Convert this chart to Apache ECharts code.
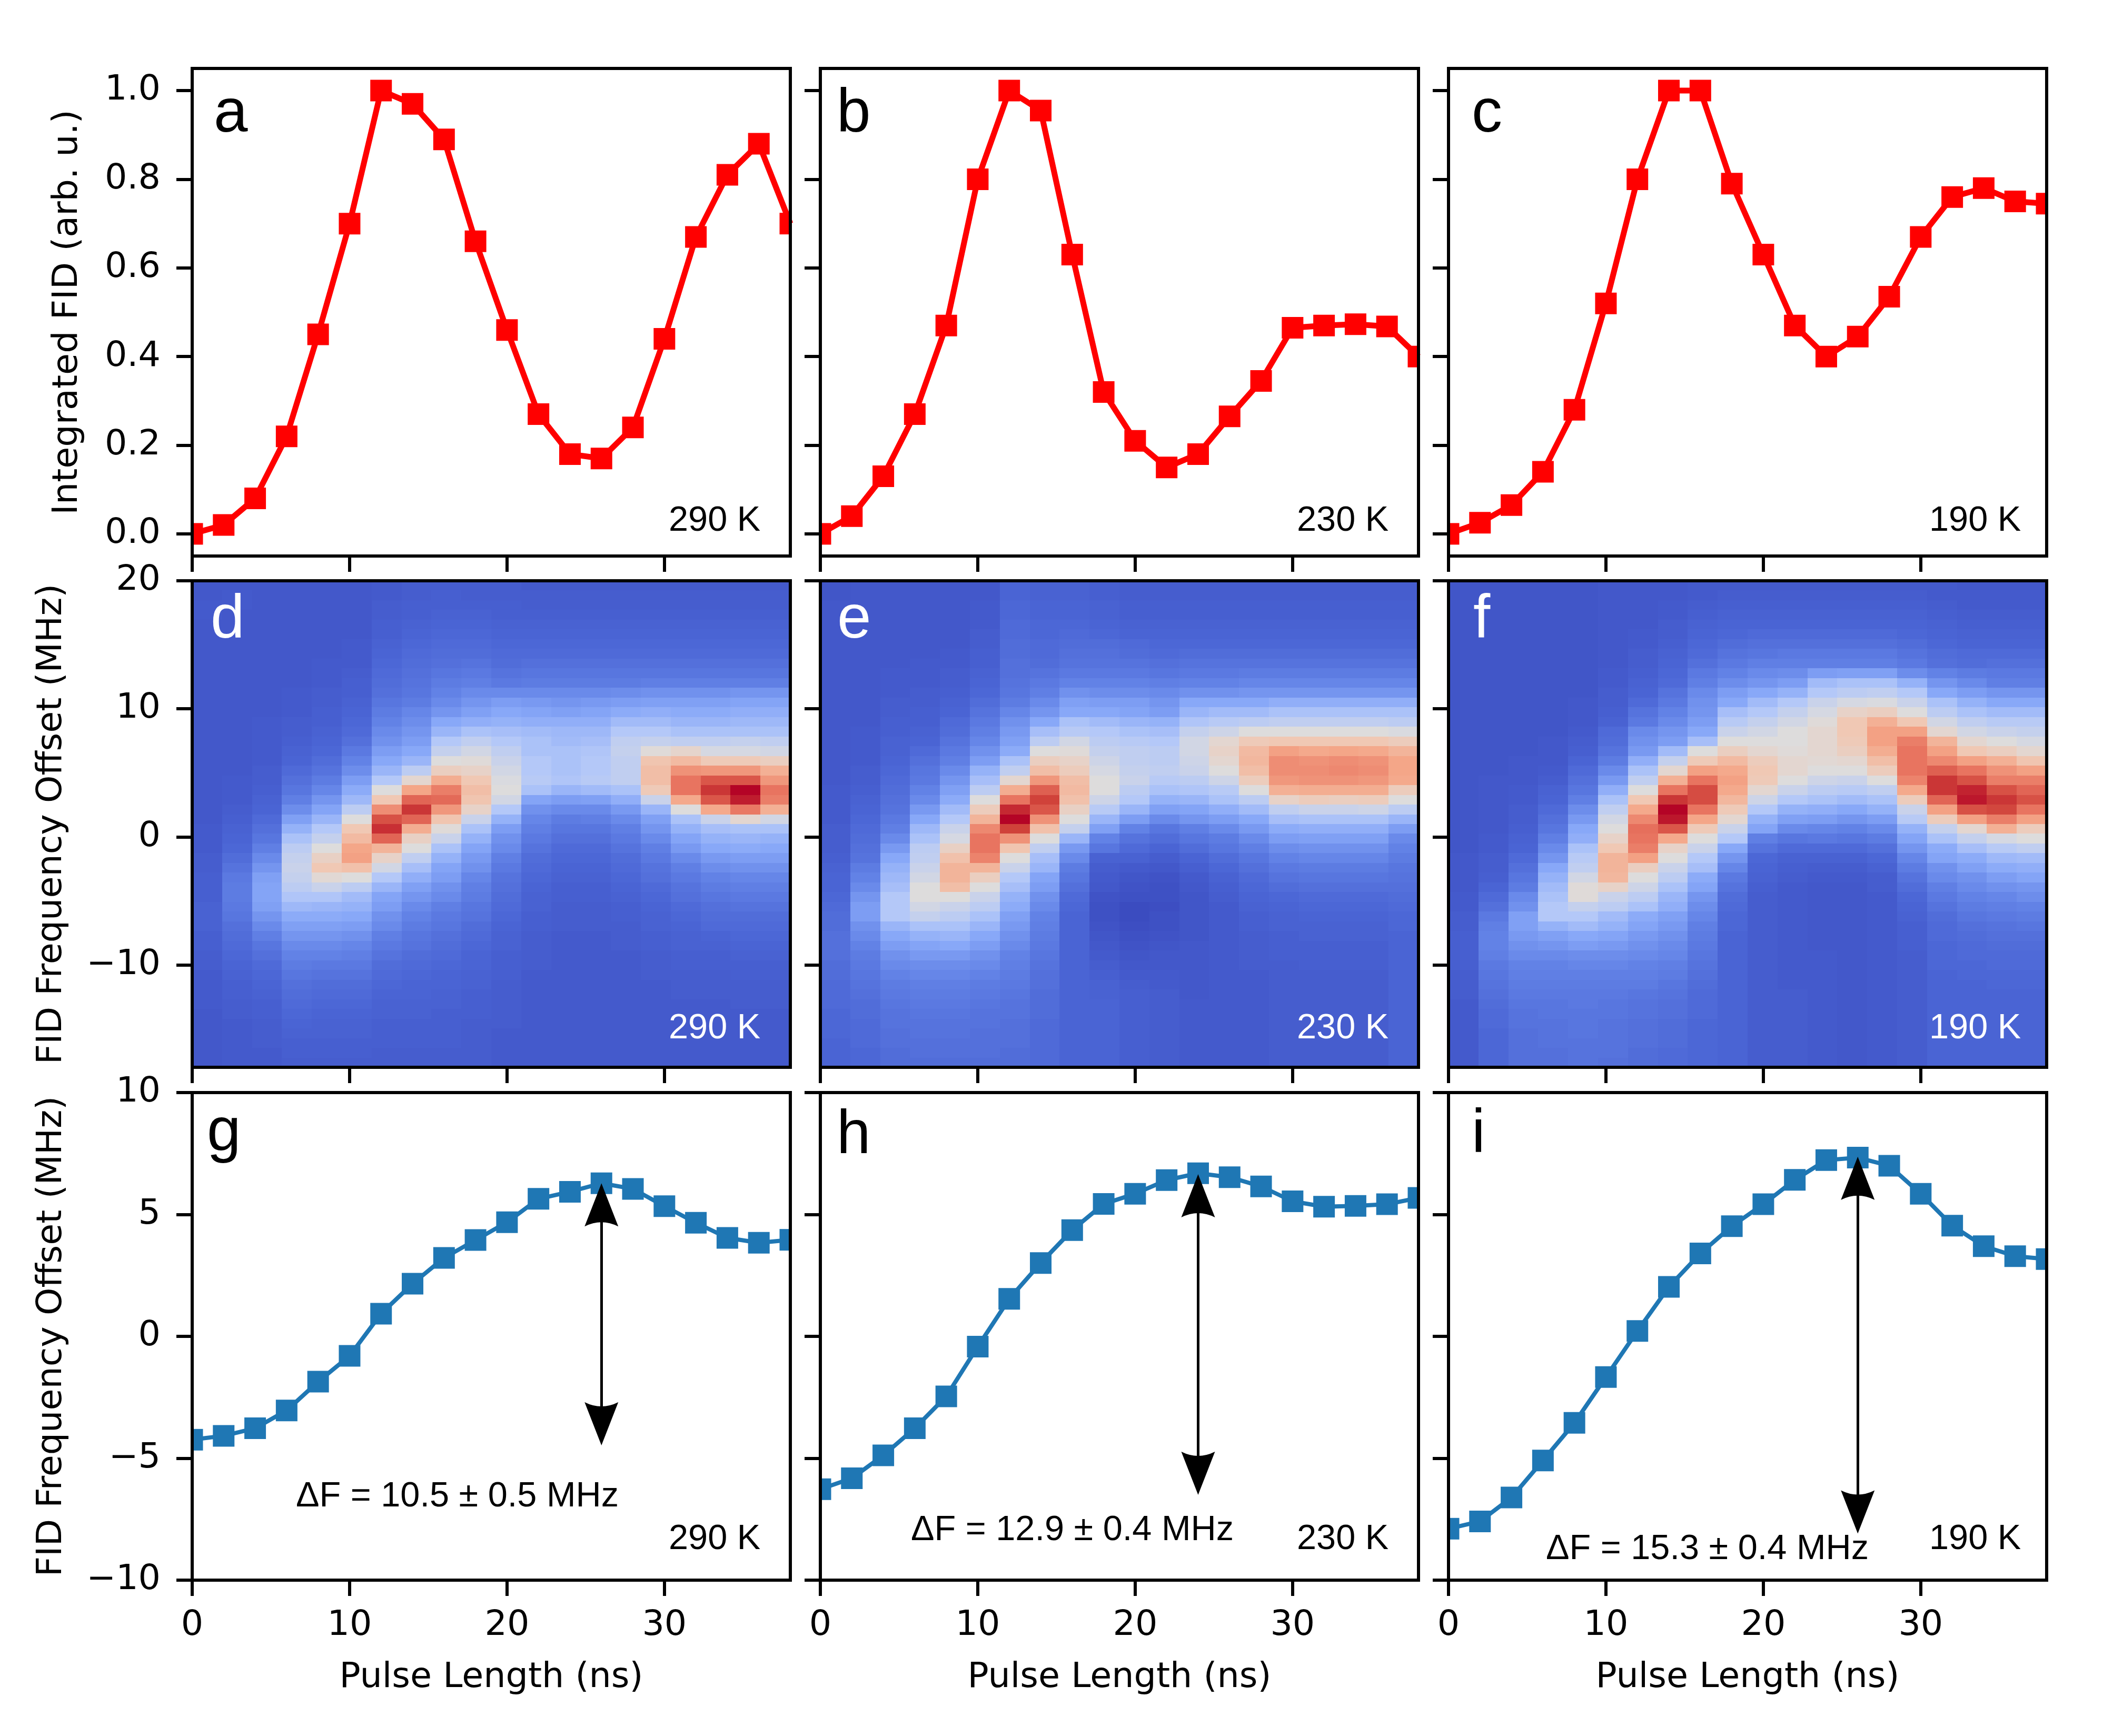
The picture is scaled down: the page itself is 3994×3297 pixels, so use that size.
<!DOCTYPE html>
<html>
<head>
<meta charset="utf-8">
<title>FID vs pulse length</title>
<script src="https://cdn.jsdelivr.net/npm/echarts@6/dist/echarts.min.js"></script>
<style>
  html, body { margin: 0; padding: 0; background: #fff; }
  #main { width: 3994px; height: 3297px; }
</style>
</head>
<body>
<div id="main"></div>
<script>
// pulse lengths (ns), shared by every panel
var pulseNs = [0, 2, 4, 6, 8, 10, 12, 14, 16, 18, 20, 22, 24, 26, 28, 30, 32, 34, 36, 38];

// a, b, c : integrated FID (arb. u.)
var fid290 = [0.00, 0.02, 0.08, 0.22, 0.45, 0.70, 1.00, 0.97, 0.89, 0.66, 0.46, 0.27, 0.18, 0.17, 0.24, 0.44, 0.67, 0.81, 0.88, 0.70];
var fid230 = [0.00, 0.04, 0.13, 0.27, 0.47, 0.80, 1.00, 0.955, 0.63, 0.32, 0.21, 0.15, 0.18, 0.265, 0.345, 0.465, 0.47, 0.473, 0.468, 0.40];
var fid190 = [0.00, 0.025, 0.065, 0.14, 0.28, 0.52, 0.80, 1.00, 1.00, 0.79, 0.63, 0.47, 0.40, 0.445, 0.535, 0.67, 0.76, 0.78, 0.75, 0.745];

// g, h, i : FID frequency offset (MHz)
var offset290 = [-4.24, -4.08, -3.77, -3.04, -1.86, -0.80, 0.93, 2.16, 3.22, 3.95, 4.68, 5.64, 5.93, 6.28, 6.05, 5.34, 4.66, 4.04, 3.84, 3.96];
var offset230 = [-6.27, -5.82, -4.88, -3.77, -2.46, -0.42, 1.54, 3.01, 4.36, 5.43, 5.85, 6.41, 6.69, 6.53, 6.15, 5.54, 5.32, 5.35, 5.42, 5.68];
var offset190 = [-7.89, -7.59, -6.61, -5.09, -3.55, -1.67, 0.22, 2.03, 3.40, 4.52, 5.42, 6.42, 7.23, 7.33, 7.00, 5.85, 4.54, 3.70, 3.29, 3.17];

// double arrows in g, h, i (pulse, top, bottom)
var arrowX = [26, 24, 26];
var arrowTop = [6.28, 6.65, 7.37];
var arrowBottom = [-4.47, -6.50, -8.09];

var temps = ['290 K', '230 K', '190 K'];
var deltaF = ['\u0394F = 10.5 \u00b1 0.5 MHz', '\u0394F = 12.9 \u00b1 0.4 MHz', '\u0394F = 15.3 \u00b1 0.4 MHz'];
var letters = [['a', 'b', 'c'], ['d', 'e', 'f'], ['g', 'h', 'i']];

var pulseTicks = [0, 10, 20, 30];
var fidTicks = [0, 0.2, 0.4, 0.6, 0.8, 1.0];
var mapTicks = [-10, 0, 10, 20];
var offsetTicks = [-10, -5, 0, 5, 10];

// d, e, f : FID spectra (intensity 0-100). One array per pulse-length bin (20 bins over 0-38 ns),
// each holding 50 frequency bins from +20 MHz (first) down to -18 MHz (last).
var mapX = [0, 38];
var mapY = [-18, 20];
var fidMap290 = [
  [5,5,6,6,5,5,5,5,5,5, 5,5,5,5,5,5,5,5,5,5, 5,5,5,5,5,6,6,6,7,7, 8,8,8,9,9,9,8,8,7,7, 6,6,6,6,5,5,5,5,5,5],
  [5,6,6,5,5,5,5,5,5,5, 5,5,5,5,5,5,5,5,5,5, 6,6,6,7,8,9,10,11,13,15, 17,18,18,17,16,14,13,12,11,10, 9,8,8,7,7,6,6,6,6,6],
  [5,5,5,5,5,5,5,5,5,5, 5,5,5,5,6,6,6,6,6,7, 7,8,9,10,12,14,16,19,22,25, 28,29,29,28,25,22,19,16,14,12, 11,10,9,8,8,7,7,7,6,6],
  [5,5,5,5,5,5,5,5,5,5, 5,6,6,6,7,7,8,9,10,12, 14,16,19,23,28,33,38,42,44,45, 44,42,39,35,31,28,25,22,20,18, 16,14,13,12,11,10,9,8,8,7],
  [5,5,5,5,5,5,5,5,6,6, 6,7,7,8,8,9,10,11,13,15, 18,21,25,29,34,40,44,50,56,60, 52,45,39,34,31,28,25,22,20,17, 15,13,12,11,10,9,9,8,8,7],
  [5,5,5,5,5,5,6,6,6,7, 8,8,9,10,11,12,14,17,20,23, 27,31,35,42,50,60,64,70,71,62, 50,42,36,33,30,27,24,21,19,17, 15,13,12,11,10,9,9,8,8,7],
  [6,6,7,7,8,8,9,10,11,12, 13,14,16,18,20,22,24,27,30,34, 40,50,60,75,87,93,83,66,55,47, 40,34,29,27,24,22,19,17,15,13, 12,11,10,9,9,8,8,8,7,7],
  [7,7,8,8,9,10,11,12,13,14, 15,16,18,21,23,25,27,30,34,42, 53,70,83,92,83,68,56,50,43,37, 32,28,25,22,20,18,16,15,13,12, 11,10,10,9,9,8,8,8,7,7],
  [7,8,8,9,10,11,12,13,14,16, 18,20,22,25,30,34,40,44,50,57, 68,78,82,73,61,51,45,38,33,29, 27,24,22,19,17,16,14,13,12,11, 10,10,9,9,8,8,8,8,7,7],
  [7,7,8,9,10,11,12,13,15,17, 19,22,25,28,32,38,43,47,51,55, 60,63,61,55,45,38,33,29,26,24, 21,19,18,16,15,13,12,11,10,10, 9,9,8,8,8,7,7,7,7,7],
  [7,7,8,8,9,10,11,12,13,15, 17,22,27,30,33,37,40,43,45,47, 49,50,47,40,33,27,24,22,19,17, 15,14,13,12,11,10,9,9,8,8, 8,7,7,7,7,7,6,6,6,6],
  [6,7,7,8,9,10,11,12,14,16, 18,22,26,29,32,36,38,38,40,40, 41,38,29,24,21,19,17,15,13,12, 11,10,9,9,8,8,7,7,7,7, 6,6,6,6,6,6,6,6,6,6],
  [6,7,7,8,9,10,11,12,14,16, 18,22,25,28,32,35,36,38,38,38, 39,34,27,22,18,16,14,12,11,10, 9,8,8,7,7,7,6,6,6,6, 6,6,6,6,6,6,6,6,6,6],
  [6,7,7,8,9,10,11,12,14,16, 18,22,26,29,32,35,37,39,40,40, 41,36,28,22,19,16,14,12,11,10, 9,8,8,7,7,7,6,6,6,6, 6,6,6,6,6,6,6,6,6,6],
  [6,7,7,8,9,10,11,12,14,16, 18,23,27,31,36,40,43,44,43,43, 43,38,32,26,22,19,17,15,13,12, 11,10,9,8,8,7,7,7,6,6, 6,6,6,6,6,6,6,6,6,6],
  [6,7,7,8,9,10,11,12,14,16, 19,24,28,32,36,40,44,51,61,63, 63,59,45,34,28,25,22,19,17,15, 14,12,11,10,9,9,8,8,7,7, 7,6,6,6,6,6,6,6,6,6],
  [6,7,7,8,9,10,11,12,14,16, 19,24,28,31,34,38,43,54,64,74, 80,80,69,50,38,33,29,26,22,19, 17,15,14,12,11,10,9,9,8,8, 7,7,7,6,6,6,6,6,6,6],
  [6,7,7,8,9,10,11,12,14,16, 19,24,28,31,34,38,43,48,59,73, 86,92,86,69,45,37,33,30,26,23, 20,18,16,14,13,12,10,9,8,8, 7,7,7,6,6,6,6,6,6,6],
  [6,7,7,8,9,10,11,12,14,16, 19,25,29,32,35,38,44,48,59,73, 86,100,96,79,53,38,34,31,27,24, 21,19,17,15,13,12,11,10,9,8, 8,7,7,7,6,6,6,6,6,6],
  [6,7,7,8,9,10,11,12,14,16, 19,25,29,32,35,38,43,47,57,67, 73,80,78,67,47,38,33,30,27,24, 21,19,17,15,13,12,11,10,9,8, 8,7,7,7,6,6,6,6,6,6]
];
var fidMap230 = [
  [4,4,5,5,5,5,5,5,5,5, 5,5,5,5,5,5,5,5,5,5, 5,6,6,6,6,7,7,7,8,9, 10,10,11,12,13,13,14,14,14,13, 13,12,12,12,11,11,11,10,10,10],
  [5,5,5,5,5,5,5,5,5,5, 5,5,5,5,5,6,6,6,6,7, 7,8,9,10,11,12,13,14,15,18, 20,22,25,27,27,24,22,20,18,17, 16,15,14,13,13,12,12,12,11,11],
  [5,5,5,5,5,5,5,5,5,6, 6,6,7,7,8,8,9,9,10,11, 12,13,14,15,17,19,22,26,30,33, 35,37,40,40,40,34,30,27,24,22, 20,18,17,16,15,15,14,14,13,13],
  [5,5,5,5,5,5,5,5,6,6, 6,7,7,8,8,9,10,12,14,16, 17,20,22,26,30,35,38,42,43,45, 47,50,50,47,44,38,33,29,26,23, 21,19,18,17,16,15,15,14,14,13],
  [5,5,5,5,5,5,5,6,6,7, 7,8,9,10,12,13,15,17,19,22, 25,28,31,36,40,45,48,56,62,66, 66,63,50,45,42,38,34,30,26,23, 21,19,18,17,16,15,15,14,14,13],
  [5,5,6,6,6,7,7,8,8,9, 10,11,13,15,17,19,21,24,27,33, 37,42,50,58,66,76,80,80,77,66, 57,50,45,42,38,34,30,27,24,22, 20,18,17,16,15,15,14,14,14,13],
  [10,10,11,11,12,12,13,13,14,14, 15,16,18,21,24,26,28,31,38,43, 53,68,80,94,100,90,74,61,50,45, 40,37,33,31,28,26,24,22,20,19, 18,17,16,15,15,14,14,14,13,13],
  [9,9,10,10,11,11,12,12,13,15, 17,19,22,25,30,37,42,50,57,63, 73,84,90,86,74,62,50,43,37,34, 29,27,24,22,20,19,18,17,16,15, 14,14,13,13,13,12,12,12,12,12],
  [9,9,10,10,11,12,13,14,15,17, 20,24,28,30,38,41,47,51,55,58, 63,64,62,56,50,44,34,26,22,18, 16,14,12,11,10,10,10,10,10,10, 10,10,10,10,10,10,10,10,10,10],
  [8,8,9,9,10,11,13,14,15,17, 20,23,27,30,36,40,42,44,46,48, 50,50,46,41,34,28,20,16,9,7, 6,5,3,2,2,3,4,5,6,7, 8,9,9,10,10,10,10,10,10,10],
  [7,7,8,8,9,10,12,13,15,17, 20,23,27,29,34,38,41,43,43,44, 45,42,40,34,27,20,15,12,9,6, 4,3,2,0,0,1,2,3,4,5, 6,7,8,8,8,8,8,8,8,8],
  [7,7,8,8,9,10,11,12,14,16, 19,22,25,27,33,37,40,42,42,43, 41,38,33,28,22,16,13,10,7,5, 3,2,2,1,2,2,3,4,5,5, 6,6,7,7,7,7,7,7,7,7],
  [7,7,8,8,9,10,11,13,15,17, 20,24,30,34,39,44,47,47,46,45, 42,39,34,29,25,19,16,13,10,8, 6,5,4,4,4,4,4,5,5,5, 5,5,5,6,6,6,6,6,6,6],
  [7,7,8,8,9,10,11,13,15,17, 20,24,30,36,41,46,53,55,53,50, 46,41,38,32,27,22,18,16,13,11, 9,8,7,6,6,6,6,6,6,6, 6,6,6,6,6,6,6,6,6,6],
  [7,7,8,8,9,10,11,13,15,18, 21,25,30,36,42,50,59,64,65,63, 58,50,42,36,30,26,22,19,16,14, 12,11,10,9,8,8,7,7,7,7, 6,6,6,6,6,6,6,6,6,6],
  [7,7,8,8,9,10,11,13,15,18, 21,25,32,38,43,50,60,71,75,75, 73,67,55,43,37,31,27,23,20,17, 15,13,11,10,9,9,8,8,8,7, 7,7,7,7,7,7,7,7,7,7],
  [7,7,8,8,9,10,11,13,15,18, 21,25,32,38,43,50,60,69,74,75, 74,68,58,45,38,32,28,24,21,18, 16,14,12,11,10,9,9,8,8,8, 7,7,7,7,7,7,7,7,7,7],
  [7,7,8,8,9,10,11,13,15,18, 21,25,32,38,43,50,60,70,75,76, 74,68,57,45,38,32,28,24,21,18, 16,14,12,11,10,9,9,8,8,8, 7,7,7,7,7,7,7,7,7,7],
  [7,7,8,8,9,10,11,13,15,18, 21,25,32,38,43,50,60,69,74,75, 73,68,58,46,38,32,28,24,21,18, 16,14,12,11,10,9,9,8,8,8, 7,7,7,7,7,7,7,7,7,7],
  [7,7,8,8,9,10,11,13,15,18, 21,25,32,38,42,49,58,66,70,70, 69,58,50,42,34,27,22,20,18,16, 15,14,13,12,11,11,10,10,10,10, 10,10,10,10,10,10,10,10,10,10]
];
var fidMap190 = [
  [4,4,4,4,4,4,4,4,4,4, 4,4,4,4,4,4,4,4,4,4, 4,4,4,4,4,4,4,4,5,5, 5,5,6,6,7,7,8,8,8,8, 7,7,7,6,6,6,6,6,6,6],
  [4,4,4,4,4,4,4,4,4,4, 4,4,4,4,4,4,4,4,4,4, 5,5,5,5,5,5,6,6,7,7, 8,10,12,14,17,19,20,20,19,17, 16,15,14,13,12,12,11,11,11,11],
  [4,4,4,4,4,4,4,4,4,4, 4,4,4,4,4,4,4,4,5,5, 5,6,6,7,7,8,9,10,12,14, 16,18,22,24,28,28,26,24,22,20, 19,18,17,16,15,15,14,14,14,14],
  [4,4,4,4,4,4,4,4,4,4, 4,4,4,4,4,4,5,5,5,6, 7,9,10,12,14,16,19,22,25,30, 33,36,38,40,40,33,28,25,22,20, 19,18,17,16,16,15,15,15,14,14],
  [4,4,4,4,4,4,4,4,4,4, 4,4,5,5,5,6,7,8,10,12, 14,16,19,23,26,30,32,38,41,43, 47,51,51,44,40,36,30,27,23,21, 19,18,17,17,16,16,16,15,15,15],
  [5,5,5,5,5,5,5,5,5,6, 6,7,7,8,9,12,13,15,18,22, 26,32,38,43,47,50,55,60,66,66, 65,55,45,42,36,33,29,26,23,21, 19,18,17,16,16,15,15,15,15,14],
  [5,5,5,5,5,6,6,7,7,8, 9,10,12,15,17,22,24,26,32,38, 43,50,60,69,76,81,80,78,71,57, 50,46,42,38,31,29,26,24,22,20, 19,18,16,15,15,14,14,14,13,13],
  [5,5,6,6,7,7,8,9,10,11, 12,15,17,20,22,25,27,36,44,53, 67,80,92,100,97,86,69,55,50,45, 42,38,34,32,28,26,24,22,21,19, 18,16,15,14,14,13,13,13,12,12],
  [6,6,7,8,9,10,11,12,14,17, 19,22,24,25,27,30,37,50,59,71, 80,88,88,80,70,59,50,45,40,37, 31,29,25,23,21,19,18,17,16,15, 14,13,12,12,12,11,11,11,11,11],
  [6,7,8,9,10,11,13,15,17,20, 23,27,30,37,41,45,50,57,64,69, 71,69,65,59,53,45,40,30,25,21, 17,15,13,12,11,11,10,10,10,10, 10,10,10,10,10,10,10,10,10,10],
  [6,7,8,9,10,12,14,16,19,22, 25,30,36,40,44,47,50,53,58,60, 59,53,46,40,33,29,19,15,11,10, 9,8,7,7,7,7,7,7,7,7, 7,7,7,7,7,7,7,7,7,7],
  [6,7,8,9,10,12,14,17,19,23, 27,33,40,44,47,50,50,51,53,53, 50,45,40,33,28,22,16,12,9,8, 7,6,6,6,6,6,6,6,6,6, 6,6,7,7,7,7,7,7,7,7],
  [6,7,8,9,10,12,14,17,19,27, 36,40,45,48,51,53,53,53,52,50, 46,42,38,32,27,21,17,12,9,7, 6,5,5,5,5,5,5,5,6,6, 6,6,6,6,6,6,6,6,6,6],
  [6,7,8,9,10,12,14,17,19,28, 38,42,48,55,60,60,59,57,53,50, 45,41,36,30,25,20,16,12,9,7, 6,5,5,5,5,5,5,5,5,5, 5,5,5,5,5,5,5,5,5,5],
  [6,7,8,9,10,12,14,17,19,28, 38,43,49,57,67,71,71,68,63,58, 50,43,38,33,27,22,18,14,11,9, 7,7,6,6,6,6,6,6,6,6, 6,6,6,6,6,6,6,6,6,6],
  [6,7,8,9,10,11,13,15,17,23, 33,40,45,50,60,71,78,80,80,80, 77,69,58,45,41,33,29,25,21,18, 15,13,11,10,9,8,8,8,7,7, 7,7,7,7,7,7,7,7,7,7],
  [6,6,7,8,9,10,11,13,14,20, 25,30,38,42,47,53,66,71,76,84, 92,92,83,71,58,44,38,31,29,24, 22,19,17,15,13,12,12,11,11,11, 10,10,10,10,10,10,10,10,10,10],
  [5,6,6,7,8,9,10,12,13,18, 22,27,33,38,43,47,53,60,71,80, 87,95,97,87,71,53,44,37,31,28, 24,22,20,18,16,14,13,12,12,11, 11,10,10,10,10,10,10,10,10,10],
  [5,6,6,7,8,9,10,12,14,17, 19,25,30,36,41,45,50,57,67,74, 78,87,92,89,78,67,48,41,35,31, 27,24,21,19,17,15,14,13,12,12, 11,11,10,10,10,10,10,10,10,10],
  [5,6,6,7,8,9,10,12,14,17, 19,25,30,36,41,44,48,53,61,71, 78,83,87,80,71,58,50,43,36,32, 29,25,23,20,18,16,14,13,12,12, 11,11,10,10,10,10,10,10,10,10]
];

// ---- layout / style ----
var colLeft = [365, 1558, 2751];
var colWidth = 1136;
var rowTop = [130, 1103, 2075];
var rowHeight = [926, 924, 926];
var yRange = [[-0.05, 1.05], [mapY[0], mapY[1]], [-10, 10]];
var yTicks = [fidTicks, mapTicks, offsetTicks];
var tickFont = 'DejaVu Sans';
var textFont = 'Liberation Sans';
var coolwarm = ['#3b4cc0', '#4a64d4', '#6282e6', '#88a8f8', '#b4c8f8', '#dddcdc',
                '#f0c8b4', '#f4a688', '#e87460', '#d0423a', '#b40426'];
var markerSize = 41;
var arrowHead = [64, 82];
var arrowPath = 'path://M0,0L32,82Q0,66,-32,82Z';

function fmtTick(v, r) {
  var s = r === 0 ? v.toFixed(1) : String(Math.abs(v));
  return v < 0 ? '\u2212' + s : s;
}

function pairs(ys) {
  return pulseNs.map(function (x, k) { return [x, ys[k]]; });
}

function heatData(cols) {
  var out = [];
  var cw = (mapX[1] - mapX[0]) / cols.length;
  var ch = (mapY[1] - mapY[0]) / cols[0].length;
  cols.forEach(function (col, j) {
    col.forEach(function (v, i) {
      out.push([mapX[0] + j * cw, mapY[1] - i * ch, v, cw, ch]);
    });
  });
  return out;
}

function clipTo(params, r) {
  var cs = params.coordSys;
  return echarts.graphic.clipRectByRect(r, {x: cs.x, y: cs.y, width: cs.width, height: cs.height});
}

function squareItem(params, api) {
  var p = api.coord([api.value(0), api.value(1)]);
  var r = clipTo(params, {x: p[0] - markerSize / 2, y: p[1] - markerSize / 2, width: markerSize, height: markerSize});
  return r && {type: 'rect', shape: r, style: {fill: api.visual('color')}};
}

function cellItem(params, api) {
  var x0 = api.value(0), yTop = api.value(1);
  var a = api.coord([x0, yTop]);
  var b = api.coord([x0 + api.value(3), yTop - api.value(4)]);
  var l = Math.round(a[0]), t = Math.round(a[1]);
  var r = clipTo(params, {x: l, y: t, width: Math.round(b[0]) - l, height: Math.round(b[1]) - t});
  return r && {type: 'rect', shape: r, style: {fill: api.visual('color'), stroke: null}};
}

var fidSets = [fid290, fid230, fid190];
var mapSets = [fidMap290, fidMap230, fidMap190];
var offsetSets = [offset290, offset230, offset190];

var grids = [], xAxes = [], yAxes = [], series = [], heatIdx = [], graphics = [];

for (var r = 0; r < 3; r++) {
  for (var c = 0; c < 3; c++) {
    var g = r * 3 + c;
    grids.push({
      left: colLeft[c], top: rowTop[r], width: colWidth, height: rowHeight[r],
      show: true, z: 10, backgroundColor: 'transparent', borderColor: '#000', borderWidth: 6
    });
    xAxes.push({
      gridIndex: g, type: 'value', min: 0, max: 38, position: 'bottom',
      axisLine: {show: false, onZero: false}, splitLine: {show: false},
      axisTick: {show: true, customValues: pulseTicks, length: 30, lineStyle: {color: '#000', width: 6}},
      axisLabel: {show: r === 2, customValues: pulseTicks, margin: 53, color: '#000',
                  fontSize: 66.7, fontFamily: tickFont}
    });
    (function (row) {
      yAxes.push({
        gridIndex: g, type: 'value', min: yRange[row][0], max: yRange[row][1], position: 'left',
        axisLine: {show: false, onZero: false}, splitLine: {show: false},
        axisTick: {show: true, customValues: yTicks[row], length: 30, lineStyle: {color: '#000', width: 6}},
        axisLabel: {show: c === 0, customValues: yTicks[row], margin: 60, color: '#000',
                    fontSize: 66.7, fontFamily: tickFont,
                    formatter: function (v) { return fmtTick(v, row); }}
      });
    })(r);

    if (r === 1) {
      heatIdx.push(series.length);
      series.push({
        type: 'custom', xAxisIndex: g, yAxisIndex: g, silent: true,
        renderItem: cellItem, data: heatData(mapSets[c]), z: 1
      });
    } else {
      var ys = r === 0 ? fidSets[c] : offsetSets[c];
      var color = r === 0 ? '#ff0000' : '#1f77b4';
      var line = {
        type: 'line', xAxisIndex: g, yAxisIndex: g, silent: true,
        data: pairs(ys), symbol: 'none', clip: true, z: 2,
        lineStyle: {color: color, width: r === 0 ? 11 : 8}
      };
      if (r === 2) {
        var shift = (arrowHead[1] / 2) / (rowHeight[2] / (yRange[2][1] - yRange[2][0]));
        line.markLine = {
          silent: true, animation: false,
          symbol: [arrowPath, arrowPath], symbolSize: arrowHead,
          label: {show: false},
          itemStyle: {color: '#000'},
          lineStyle: {color: '#000', width: 5, type: 'solid', opacity: 1},
          emphasis: {disabled: true},
          data: [[{coord: [arrowX[c], arrowTop[c] - shift]}, {coord: [arrowX[c], arrowBottom[c] + shift]}]]
        };
      }
      series.push(line);
      series.push({
        type: 'custom', xAxisIndex: g, yAxisIndex: g, silent: true,
        renderItem: squareItem, data: pairs(ys), itemStyle: {color: color}, z: 3
      });
    }
  }
}

// text: panel letters, temperatures, delta-F labels, axis titles
var letterOffset = [[41, 31, 44], [35, 32, 47], [28, 31, 44]];
var letterBase = [[119, 119, 119], [107, 107, 107], [109, 114, 112]];
var tempOffset = [905, 905, 913];
var tempBase = [883, 874, 872];
var deltaPos = [[562, 2866], [1730, 2930], [2936, 2966]];

function txt(s, x, y, size, fam, fill, align, rot) {
  return {
    type: 'text', x: x, y: y, rotation: rot || 0, z: 20, silent: true,
    style: {text: s, font: size + 'px "' + fam + '"', fill: fill, align: align, verticalAlign: 'middle'}
  };
}

for (var rr = 0; rr < 3; rr++) {
  for (var cc = 0; cc < 3; cc++) {
    var fill = rr === 1 ? '#fff' : '#000';
    graphics.push(txt(letters[rr][cc], colLeft[cc] + letterOffset[rr][cc],
                      rowTop[rr] + letterBase[rr][cc] - 31, 116, textFont, fill, 'left'));
    graphics.push(txt(temps[cc], colLeft[cc] + tempOffset[cc],
                      rowTop[rr] + tempBase[rr] - 23, 66.7, textFont, fill, 'left'));
  }
  graphics.push(txt(deltaF[rr], deltaPos[rr][0], deltaPos[rr][1] - 23, 66.7, textFont, '#000', 'left'));
  graphics.push(txt('Pulse Length (ns)', colLeft[rr] + colWidth / 2, 3187, 66.7, tickFont, '#000', 'center'));
}
graphics.push(txt('Integrated FID (arb. u.)', 129, rowTop[0] + rowHeight[0] / 2, 66.7, tickFont, '#000', 'center', Math.PI / 2));
graphics.push(txt('FID Frequency Offset (MHz)', 99, rowTop[1] + rowHeight[1] / 2, 66.7, tickFont, '#000', 'center', Math.PI / 2));
graphics.push(txt('FID Frequency Offset (MHz)', 99, rowTop[2] + rowHeight[2] / 2, 66.7, tickFont, '#000', 'center', Math.PI / 2));

var option = {
  animation: false,
  backgroundColor: '#fff',
  grid: grids,
  xAxis: xAxes,
  yAxis: yAxes,
  visualMap: {
    type: 'continuous', show: false, min: 0, max: 100, dimension: 2,
    seriesIndex: heatIdx, inRange: {color: coolwarm}
  },
  graphic: graphics,
  series: series
};

var chart = echarts.init(document.getElementById('main'), null, {renderer: 'canvas'});
chart.setOption(option);
</script>
</body>
</html>
